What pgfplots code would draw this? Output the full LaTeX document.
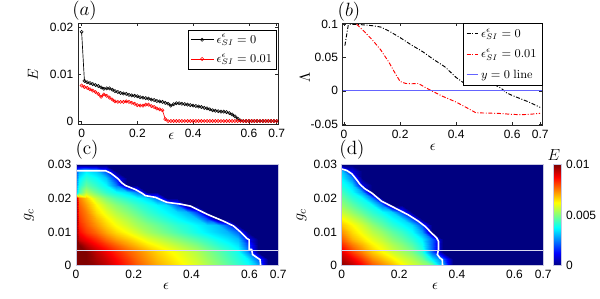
\documentclass[border=0pt]{standalone}
\usepackage[no-math]{fontspec}
\setmainfont{Liberation Sans}
\usepackage{pgfplots}
\pgfplotsset{compat=1.18}
\definecolor{hline}{RGB}{215,215,240}
\definecolor{bframe}{RGB}{200,200,225}
\definecolor{ylblue}{RGB}{100,100,255}
\begin{document}
\begin{tikzpicture}
\path[use as bounding box] (0,0) rectangle (450pt,224.25pt);
\pgfplotsset{
  myax/.style={scale only axis, anchor=south west, tick align=inside,
    axis line style={black!85, line width=0.4pt},
    major tick length=2.2pt,
    tick style={black!85, line width=0.4pt},
    tick label style={font=\fontsize{9}{10}\selectfont},
    /pgf/number format/assume math mode=true,
    scaled ticks=false,
    label style={font=\fontsize{11}{12}\selectfont},
    xtick={0,0.2,0.4,0.6,0.7}, xticklabels={0,0.2,0.4,0.6,0.7},
  },
  hm/.style={myax, xmin=0, xmax=0.7, ymin=0, ymax=0.03,
    ytick={0,0.01,0.02,0.03}, yticklabels={0,0.01,0.02,0.03},
    colormap/jet, point meta min=0, point meta max=0.01,
    axis line style={bframe, line width=0.5pt}, tick style={draw=none}, axis on top,
    xlabel={$\epsilon$}, ylabel={$g_c$},
    ylabel style={font=\fontsize{12}{13}\selectfont},
  },
}
% ---------------- (a)
\begin{axis}[myax, at={(58.5pt,131.25pt)}, width=150pt, height=75.75pt,
  xmin=-0.013, xmax=0.7046, ymin=-0.00064, ymax=0.021,
  ytick={0,0.01,0.02}, yticklabels={0,0.01,0.02},
  xlabel={$\epsilon$}, ylabel={$E$},
  xlabel style={at={(axis description cs:0.467,-0.125)}, anchor=center},
  ylabel style={at={(axis description cs:-0.226,0.49)}, anchor=center},
  legend cell align=left,
  legend style={at={(0.995,0.935)}, anchor=north east, font=\fontsize{9}{10}\selectfont, inner sep=1.5pt, row sep=2.5pt},
]
\addplot[black, line width=0.5pt, mark=o, mark size=1.2pt, mark options={line width=0.4pt}] coordinates {
(0,0.0191)(0.01,0.0086)(0.02,0.0083)(0.03,0.0081)(0.04,0.0079)(0.05,0.0077)(0.06,0.0075)(0.07,0.0072)(0.08,0.0069)(0.09,0.0070)
(0.10,0.0070)(0.11,0.0067)(0.12,0.0064)(0.13,0.0062)(0.14,0.0060)(0.15,0.0059)(0.16,0.0058)(0.17,0.0056)(0.18,0.0055)(0.19,0.0054)
(0.20,0.0053)(0.21,0.0051)(0.22,0.0050)(0.23,0.0049)(0.24,0.0048)(0.25,0.0046)(0.26,0.0045)(0.27,0.0043)(0.28,0.0042)(0.29,0.0041)
(0.30,0.0039)(0.31,0.0037)(0.32,0.0033)(0.33,0.0036)(0.34,0.0038)(0.35,0.0038)(0.36,0.0037)(0.37,0.0036)(0.38,0.0035)(0.39,0.0034)
(0.40,0.0033)(0.41,0.0032)(0.42,0.0031)(0.43,0.0030)(0.44,0.0028)(0.45,0.0027)(0.46,0.0025)(0.47,0.0023)(0.48,0.0022)(0.49,0.0021)
(0.50,0.0020)(0.51,0.0020)(0.52,0.0019)(0.53,0.0017)(0.54,0.0014)(0.55,0.0010)(0.56,0.0005)(0.57,0.0001)(0.58,0)(0.59,0)
(0.60,0)(0.61,0)(0.62,0)(0.63,0)(0.64,0)(0.65,0)(0.66,0)(0.67,0)(0.68,0)(0.69,0)(0.70,0)};
\addlegendentry{$\epsilon_{SI}^{\epsilon}=0$}
\addplot[red, line width=0.5pt, mark=o, mark size=1.2pt, mark options={line width=0.4pt}] coordinates {
(0,0.0076)(0.01,0.0073)(0.02,0.0071)(0.03,0.0068)(0.04,0.0065)(0.05,0.0062)(0.06,0.0058)(0.07,0.0052)(0.08,0.0057)(0.09,0.0054)
(0.10,0.0050)(0.11,0.0046)(0.12,0.0042)(0.13,0.0041)(0.14,0.0041)(0.15,0.0041)(0.16,0.0042)(0.17,0.0041)(0.18,0.0039)(0.19,0.0037)
(0.20,0.0034)(0.21,0.0033)(0.22,0.0033)(0.23,0.0035)(0.24,0.0035)(0.25,0.0032)(0.26,0.0030)(0.27,0.0027)(0.28,0.0025)(0.29,0.0023)
(0.30,0.0004)(0.31,0)(0.32,0)(0.33,0)(0.34,0)(0.35,0)(0.36,0)(0.37,0)(0.38,0)(0.39,0)
(0.40,0)(0.41,0)(0.42,0)(0.43,0)(0.44,0)(0.45,0)(0.46,0)(0.47,0)(0.48,0)(0.49,0)
(0.50,0)(0.51,0)(0.52,0)(0.53,0)(0.54,0)(0.55,0)(0.56,0)(0.57,0)(0.58,0)(0.59,0)
(0.60,0)(0.61,0)(0.62,0)(0.63,0)(0.64,0)(0.65,0)(0.66,0)(0.67,0)(0.68,0)(0.69,0)(0.70,0)};
\addlegendentry{$\epsilon_{SI}^{\epsilon}=0.01$}
\end{axis}
% ---------------- (b)
\begin{axis}[myax, at={(257pt,130.5pt)}, width=149.6pt, height=76.5pt,
  xmin=-0.005, xmax=0.707, ymin=-0.0515, ymax=0.102,
  ytick={-0.05,0,0.05,0.1}, yticklabels={-0.05,0,0.05,0.1},
  xlabel={$\epsilon$}, ylabel={$\Lambda$},
  xlabel style={at={(axis description cs:0.452,-0.215)}, anchor=center},
  ylabel style={at={(axis description cs:-0.189,0.47)}, anchor=center},
  legend cell align=left,
  legend image post style={xscale=0.5},
  legend style={at={(1,1)}, anchor=north east, font=\fontsize{9}{10}\selectfont, inner sep=2pt, row sep=3.5pt},
]
\addplot[black, line width=0.7pt, dash pattern=on 3pt off 1.3pt on 0.7pt off 1.3pt] coordinates {
(0.003,0.068)(0.015,0.099)(0.02,0.1)(0.06,0.0995)(0.1,0.098)(0.13,0.096)(0.16,0.09)(0.2,0.08)(0.24,0.069)(0.28,0.059)(0.32,0.047)(0.36,0.036)(0.4,0.02)(0.43,0.011)(0.46,0.009)(0.5,0.009)(0.54,0.0085)(0.56,0.004)(0.58,-0.003)(0.6,-0.007)(0.63,-0.012)(0.66,-0.017)(0.7,-0.025)};
\addlegendentry{$\epsilon_{SI}^{\epsilon}=0$}
\addplot[red, line width=0.7pt, dash pattern=on 3pt off 1.3pt on 0.7pt off 1.3pt] coordinates {
(0.045,0.1)(0.07,0.09)(0.1,0.077)(0.13,0.062)(0.16,0.043)(0.18,0.028)(0.2,0.014)(0.22,0.011)(0.24,0.0105)(0.265,0.011)(0.29,0.005)(0.31,0.0005)(0.35,-0.008)(0.4,-0.017)(0.44,-0.026)(0.47,-0.033)(0.5,-0.0335)(0.55,-0.034)(0.6,-0.0355)(0.63,-0.036)(0.66,-0.0355)(0.7,-0.034)};
\addlegendentry{$\epsilon_{SI}^{\epsilon}=0.01$}
\addplot[ylblue, line width=0.7pt] coordinates {(-0.005,0)(0.707,0)};
\addlegendentry{$y=0\ \mathrm{line}$}
\end{axis}
% ---------------- (c)
\begin{axis}[hm, at={(57pt,25pt)}, width=151.7pt, height=75.75pt,
  xlabel style={at={(axis description cs:0.445,-0.208)}, anchor=center},
  ylabel style={at={(axis description cs:-0.232,0.5)}, anchor=center},
]
\addplot[surf, shader=interp, mesh/cols=22, point meta=explicit] table[row sep=\\, meta=z] {
x y z\\
0 0 0.0106\\ 0.012 0 0.0105\\ 0.035 0 0.0103\\ 0.07 0 0.0098\\ 0.105 0 0.0094\\ 0.14 0 0.0089\\ 0.175 0 0.0084\\ 0.21 0 0.0079\\ 0.245 0 0.0075\\ 0.28 0 0.0071\\ 0.315 0 0.0068\\ 0.35 0 0.0065\\ 0.385 0 0.0062\\ 0.42 0 0.0059\\ 0.455 0 0.0055\\ 0.49 0 0.0051\\ 0.525 0 0.0047\\ 0.56 0 0.0043\\ 0.595 0 0.0039\\ 0.63 0 0.0030\\ 0.665 0 0\\ 0.7 0 0\\
0 0.002 0.0106\\ 0.012 0.002 0.0105\\ 0.035 0.002 0.0102\\ 0.07 0.002 0.0096\\ 0.105 0.002 0.0092\\ 0.14 0.002 0.0087\\ 0.175 0.002 0.0082\\ 0.21 0.002 0.0077\\ 0.245 0.002 0.0073\\ 0.28 0.002 0.0069\\ 0.315 0.002 0.0066\\ 0.35 0.002 0.0063\\ 0.385 0.002 0.0060\\ 0.42 0.002 0.0057\\ 0.455 0.002 0.0053\\ 0.49 0.002 0.0049\\ 0.525 0.002 0.0045\\ 0.56 0.002 0.0041\\ 0.595 0.002 0.0036\\ 0.63 0.002 0.0022\\ 0.665 0.002 0\\ 0.7 0.002 0\\
0 0.004 0.0106\\ 0.012 0.004 0.0104\\ 0.035 0.004 0.0100\\ 0.07 0.004 0.0094\\ 0.105 0.004 0.0089\\ 0.14 0.004 0.0084\\ 0.175 0.004 0.0079\\ 0.21 0.004 0.0075\\ 0.245 0.004 0.0071\\ 0.28 0.004 0.0067\\ 0.315 0.004 0.0064\\ 0.35 0.004 0.0061\\ 0.385 0.004 0.0058\\ 0.42 0.004 0.0055\\ 0.455 0.004 0.0051\\ 0.49 0.004 0.0047\\ 0.525 0.004 0.0043\\ 0.56 0.004 0.0039\\ 0.595 0.004 0.0026\\ 0.63 0.004 0\\ 0.665 0.004 0\\ 0.7 0.004 0\\
0 0.006 0.0106\\ 0.012 0.006 0.0102\\ 0.035 0.006 0.0094\\ 0.07 0.006 0.0088\\ 0.105 0.006 0.0083\\ 0.14 0.006 0.0078\\ 0.175 0.006 0.0073\\ 0.21 0.006 0.0069\\ 0.245 0.006 0.0065\\ 0.28 0.006 0.0062\\ 0.315 0.006 0.0059\\ 0.35 0.006 0.0056\\ 0.385 0.006 0.0053\\ 0.42 0.006 0.0050\\ 0.455 0.006 0.0046\\ 0.49 0.006 0.0042\\ 0.525 0.006 0.0039\\ 0.56 0.006 0.0035\\ 0.595 0.006 0.0020\\ 0.63 0.006 0\\ 0.665 0.006 0\\ 0.7 0.006 0\\
0 0.008 0.0105\\ 0.012 0.008 0.0092\\ 0.035 0.008 0.0088\\ 0.07 0.008 0.0083\\ 0.105 0.008 0.0077\\ 0.14 0.008 0.0072\\ 0.175 0.008 0.0068\\ 0.21 0.008 0.0064\\ 0.245 0.008 0.0060\\ 0.28 0.008 0.0057\\ 0.315 0.008 0.0054\\ 0.35 0.008 0.0051\\ 0.385 0.008 0.0048\\ 0.42 0.008 0.0045\\ 0.455 0.008 0.0042\\ 0.49 0.008 0.0038\\ 0.525 0.008 0.0035\\ 0.56 0.008 0.0031\\ 0.595 0.008 0.0012\\ 0.63 0.008 0\\ 0.665 0.008 0\\ 0.7 0.008 0\\
0 0.010 0.0105\\ 0.012 0.010 0.0087\\ 0.035 0.010 0.0082\\ 0.07 0.010 0.0077\\ 0.105 0.010 0.0071\\ 0.14 0.010 0.0066\\ 0.175 0.010 0.0062\\ 0.21 0.010 0.0058\\ 0.245 0.010 0.0054\\ 0.28 0.010 0.0051\\ 0.315 0.010 0.0048\\ 0.35 0.010 0.0045\\ 0.385 0.010 0.0042\\ 0.42 0.010 0.0039\\ 0.455 0.010 0.0036\\ 0.49 0.010 0.0033\\ 0.525 0.010 0.0030\\ 0.56 0.010 0.0022\\ 0.595 0.010 0\\ 0.63 0.010 0\\ 0.665 0.010 0\\ 0.7 0.010 0\\
0 0.012 0.0104\\ 0.012 0.012 0.0084\\ 0.035 0.012 0.0079\\ 0.07 0.012 0.0073\\ 0.105 0.012 0.0067\\ 0.14 0.012 0.0062\\ 0.175 0.012 0.0058\\ 0.21 0.012 0.0054\\ 0.245 0.012 0.0051\\ 0.28 0.012 0.0048\\ 0.315 0.012 0.0045\\ 0.35 0.012 0.0042\\ 0.385 0.012 0.0040\\ 0.42 0.012 0.0037\\ 0.455 0.012 0.0034\\ 0.49 0.012 0.0031\\ 0.525 0.012 0.0020\\ 0.56 0.012 0\\ 0.595 0.012 0\\ 0.63 0.012 0\\ 0.665 0.012 0\\ 0.7 0.012 0\\
0 0.014 0.0104\\ 0.012 0.014 0.0082\\ 0.035 0.014 0.0077\\ 0.07 0.014 0.0070\\ 0.105 0.014 0.0064\\ 0.14 0.014 0.0059\\ 0.175 0.014 0.0055\\ 0.21 0.014 0.0051\\ 0.245 0.014 0.0047\\ 0.28 0.014 0.0044\\ 0.315 0.014 0.0041\\ 0.35 0.014 0.0038\\ 0.385 0.014 0.0035\\ 0.42 0.014 0.0032\\ 0.455 0.014 0.0020\\ 0.49 0.014 0\\ 0.525 0.014 0\\ 0.56 0.014 0\\ 0.595 0.014 0\\ 0.63 0.014 0\\ 0.665 0.014 0\\ 0.7 0.014 0\\
0 0.016 0.0104\\ 0.012 0.016 0.0080\\ 0.035 0.016 0.0075\\ 0.07 0.016 0.0066\\ 0.105 0.016 0.0060\\ 0.14 0.016 0.0055\\ 0.175 0.016 0.0051\\ 0.21 0.016 0.0047\\ 0.245 0.016 0.0043\\ 0.28 0.016 0.0040\\ 0.315 0.016 0.0037\\ 0.35 0.016 0.0034\\ 0.385 0.016 0.0030\\ 0.42 0.016 0.0018\\ 0.455 0.016 0\\ 0.49 0.016 0\\ 0.525 0.016 0\\ 0.56 0.016 0\\ 0.595 0.016 0\\ 0.63 0.016 0\\ 0.665 0.016 0\\ 0.7 0.016 0\\
0 0.018 0.0104\\ 0.012 0.018 0.0078\\ 0.035 0.018 0.0072\\ 0.07 0.018 0.0063\\ 0.105 0.018 0.0056\\ 0.14 0.018 0.0051\\ 0.175 0.018 0.0047\\ 0.21 0.018 0.0043\\ 0.245 0.018 0.0040\\ 0.28 0.018 0.0037\\ 0.315 0.018 0.0034\\ 0.35 0.018 0.0022\\ 0.385 0.018 0\\ 0.42 0.018 0\\ 0.455 0.018 0\\ 0.49 0.018 0\\ 0.525 0.018 0\\ 0.56 0.018 0\\ 0.595 0.018 0\\ 0.63 0.018 0\\ 0.665 0.018 0\\ 0.7 0.018 0\\
0 0.020 0.0100\\ 0.012 0.020 0.0075\\ 0.035 0.020 0.0068\\ 0.07 0.020 0.0057\\ 0.105 0.020 0.0050\\ 0.14 0.020 0.0045\\ 0.175 0.020 0.0041\\ 0.21 0.020 0.0038\\ 0.245 0.020 0.0034\\ 0.28 0.020 0.0024\\ 0.315 0.020 0\\ 0.35 0.020 0\\ 0.385 0.020 0\\ 0.42 0.020 0\\ 0.455 0.020 0\\ 0.49 0.020 0\\ 0.525 0.020 0\\ 0.56 0.020 0\\ 0.595 0.020 0\\ 0.63 0.020 0\\ 0.665 0.020 0\\ 0.7 0.020 0\\
0 0.022 0.0030\\ 0.012 0.022 0.0045\\ 0.035 0.022 0.0055\\ 0.07 0.022 0.0048\\ 0.105 0.022 0.0042\\ 0.14 0.022 0.0038\\ 0.175 0.022 0.0034\\ 0.21 0.022 0.0024\\ 0.245 0.022 0\\ 0.28 0.022 0\\ 0.315 0.022 0\\ 0.35 0.022 0\\ 0.385 0.022 0\\ 0.42 0.022 0\\ 0.455 0.022 0\\ 0.49 0.022 0\\ 0.525 0.022 0\\ 0.56 0.022 0\\ 0.595 0.022 0\\ 0.63 0.022 0\\ 0.665 0.022 0\\ 0.7 0.022 0\\
0 0.024 0.0025\\ 0.012 0.024 0.0040\\ 0.035 0.024 0.0047\\ 0.07 0.024 0.0042\\ 0.105 0.024 0.0037\\ 0.14 0.024 0.0024\\ 0.175 0.024 0\\ 0.21 0.024 0\\ 0.245 0.024 0\\ 0.28 0.024 0\\ 0.315 0.024 0\\ 0.35 0.024 0\\ 0.385 0.024 0\\ 0.42 0.024 0\\ 0.455 0.024 0\\ 0.49 0.024 0\\ 0.525 0.024 0\\ 0.56 0.024 0\\ 0.595 0.024 0\\ 0.63 0.024 0\\ 0.665 0.024 0\\ 0.7 0.024 0\\
0 0.026 0.0022\\ 0.012 0.026 0.0036\\ 0.035 0.026 0.0042\\ 0.07 0.026 0.0038\\ 0.105 0.026 0.0032\\ 0.14 0.026 0.0015\\ 0.175 0.026 0\\ 0.21 0.026 0\\ 0.245 0.026 0\\ 0.28 0.026 0\\ 0.315 0.026 0\\ 0.35 0.026 0\\ 0.385 0.026 0\\ 0.42 0.026 0\\ 0.455 0.026 0\\ 0.49 0.026 0\\ 0.525 0.026 0\\ 0.56 0.026 0\\ 0.595 0.026 0\\ 0.63 0.026 0\\ 0.665 0.026 0\\ 0.7 0.026 0\\
0 0.028 0.0018\\ 0.012 0.028 0.0030\\ 0.035 0.028 0.0036\\ 0.07 0.028 0.0032\\ 0.105 0.028 0.0020\\ 0.14 0.028 0\\ 0.175 0.028 0\\ 0.21 0.028 0\\ 0.245 0.028 0\\ 0.28 0.028 0\\ 0.315 0.028 0\\ 0.35 0.028 0\\ 0.385 0.028 0\\ 0.42 0.028 0\\ 0.455 0.028 0\\ 0.49 0.028 0\\ 0.525 0.028 0\\ 0.56 0.028 0\\ 0.595 0.028 0\\ 0.63 0.028 0\\ 0.665 0.028 0\\ 0.7 0.028 0\\
0 0.030 0\\ 0.012 0.030 0\\ 0.035 0.030 0\\ 0.07 0.030 0\\ 0.105 0.030 0\\ 0.14 0.030 0\\ 0.175 0.030 0\\ 0.21 0.030 0\\ 0.245 0.030 0\\ 0.28 0.030 0\\ 0.315 0.030 0\\ 0.35 0.030 0\\ 0.385 0.030 0\\ 0.42 0.030 0\\ 0.455 0.030 0\\ 0.49 0.030 0\\ 0.525 0.030 0\\ 0.56 0.030 0\\ 0.595 0.030 0\\ 0.63 0.030 0\\ 0.665 0.030 0\\ 0.7 0.030 0\\
};
\addplot[white, line width=1.2pt] coordinates {
(0,0.0282)(0.102,0.0282)(0.12,0.0275)(0.143,0.026)(0.16,0.0245)(0.171,0.0238)(0.206,0.0226)(0.229,0.0215)(0.24,0.0208)(0.275,0.0203)(0.298,0.0194)(0.315,0.0188)(0.361,0.0183)(0.396,0.0177)(0.453,0.0153)(0.511,0.0132)(0.545,0.0118)(0.568,0.0101)(0.591,0.0081)(0.599,0.0077)(0.599,0.0049)(0.608,0.0048)(0.611,0.0033)(0.637,0.0018)(0.639,0)};
\addplot[hline, line width=0.5pt] coordinates {(0,0.0045)(0.7,0.0045)};
\end{axis}
% ---------------- (d)
\begin{axis}[hm, at={(256.3pt,25pt)}, width=151.2pt, height=75.75pt,
  xlabel style={at={(axis description cs:0.463,-0.208)}, anchor=center},
  ylabel style={at={(axis description cs:-0.2,0.5)}, anchor=center},
  colorbar,
  colorbar style={at={(parent axis.north east)}, anchor=north west, xshift=-1.2pt,
    width=6.2pt, ytick={0,0.005,0.01}, yticklabels={0,0.005,0.01},
    scaled y ticks=false,
    tick style={draw=none}, axis line style={bframe},
    yticklabel style={font=\fontsize{9}{10}\selectfont},
    /pgf/number format/assume math mode=true},
]
\addplot[surf, shader=interp, mesh/cols=21, point meta=explicit] table[row sep=\\, meta=z] {
x y z\\
0 0 0.0100\\ 0.035 0 0.0095\\ 0.07 0 0.0088\\ 0.105 0 0.0080\\ 0.14 0 0.0075\\ 0.175 0 0.0070\\ 0.21 0 0.0064\\ 0.245 0 0.0059\\ 0.28 0 0.0055\\ 0.315 0 0.0050\\ 0.35 0 0.0030\\ 0.385 0 0\\ 0.42 0 0\\ 0.455 0 0\\ 0.49 0 0\\ 0.525 0 0\\ 0.56 0 0\\ 0.595 0 0\\ 0.63 0 0\\ 0.665 0 0\\ 0.7 0 0\\
0 0.002 0.0095\\ 0.035 0.002 0.0089\\ 0.07 0.002 0.0082\\ 0.105 0.002 0.0074\\ 0.14 0.002 0.0069\\ 0.175 0.002 0.0064\\ 0.21 0.002 0.0059\\ 0.245 0.002 0.0055\\ 0.28 0.002 0.0049\\ 0.315 0.002 0.0036\\ 0.35 0.002 0.0022\\ 0.385 0.002 0\\ 0.42 0.002 0\\ 0.455 0.002 0\\ 0.49 0.002 0\\ 0.525 0.002 0\\ 0.56 0.002 0\\ 0.595 0.002 0\\ 0.63 0.002 0\\ 0.665 0.002 0\\ 0.7 0.002 0\\
0 0.004 0.0090\\ 0.035 0.004 0.0082\\ 0.07 0.004 0.0075\\ 0.105 0.004 0.0068\\ 0.14 0.004 0.0063\\ 0.175 0.004 0.0058\\ 0.21 0.004 0.0054\\ 0.245 0.004 0.0050\\ 0.28 0.004 0.0042\\ 0.315 0.004 0.0022\\ 0.35 0.004 0\\ 0.385 0.004 0\\ 0.42 0.004 0\\ 0.455 0.004 0\\ 0.49 0.004 0\\ 0.525 0.004 0\\ 0.56 0.004 0\\ 0.595 0.004 0\\ 0.63 0.004 0\\ 0.665 0.004 0\\ 0.7 0.004 0\\
0 0.006 0.0084\\ 0.035 0.006 0.0076\\ 0.07 0.006 0.0070\\ 0.105 0.006 0.0064\\ 0.14 0.006 0.0060\\ 0.175 0.006 0.0055\\ 0.21 0.006 0.0051\\ 0.245 0.006 0.0046\\ 0.28 0.006 0.0039\\ 0.315 0.006 0.0022\\ 0.35 0.006 0\\ 0.385 0.006 0\\ 0.42 0.006 0\\ 0.455 0.006 0\\ 0.49 0.006 0\\ 0.525 0.006 0\\ 0.56 0.006 0\\ 0.595 0.006 0\\ 0.63 0.006 0\\ 0.665 0.006 0\\ 0.7 0.006 0\\
0 0.008 0.0078\\ 0.035 0.008 0.0070\\ 0.07 0.008 0.0065\\ 0.105 0.008 0.0060\\ 0.14 0.008 0.0056\\ 0.175 0.008 0.0051\\ 0.21 0.008 0.0047\\ 0.245 0.008 0.0042\\ 0.28 0.008 0.0036\\ 0.315 0.008 0.0022\\ 0.35 0.008 0\\ 0.385 0.008 0\\ 0.42 0.008 0\\ 0.455 0.008 0\\ 0.49 0.008 0\\ 0.525 0.008 0\\ 0.56 0.008 0\\ 0.595 0.008 0\\ 0.63 0.008 0\\ 0.665 0.008 0\\ 0.7 0.008 0\\
0 0.010 0.0073\\ 0.035 0.010 0.0066\\ 0.07 0.010 0.0061\\ 0.105 0.010 0.0056\\ 0.14 0.010 0.0052\\ 0.175 0.010 0.0047\\ 0.21 0.010 0.0043\\ 0.245 0.010 0.0038\\ 0.28 0.010 0.0028\\ 0.315 0.010 0\\ 0.35 0.010 0\\ 0.385 0.010 0\\ 0.42 0.010 0\\ 0.455 0.010 0\\ 0.49 0.010 0\\ 0.525 0.010 0\\ 0.56 0.010 0\\ 0.595 0.010 0\\ 0.63 0.010 0\\ 0.665 0.010 0\\ 0.7 0.010 0\\
0 0.012 0.0068\\ 0.035 0.012 0.0063\\ 0.07 0.012 0.0058\\ 0.105 0.012 0.0052\\ 0.14 0.012 0.0047\\ 0.175 0.012 0.0042\\ 0.21 0.012 0.0038\\ 0.245 0.012 0.0034\\ 0.28 0.012 0.0020\\ 0.315 0.012 0\\ 0.35 0.012 0\\ 0.385 0.012 0\\ 0.42 0.012 0\\ 0.455 0.012 0\\ 0.49 0.012 0\\ 0.525 0.012 0\\ 0.56 0.012 0\\ 0.595 0.012 0\\ 0.63 0.012 0\\ 0.665 0.012 0\\ 0.7 0.012 0\\
0 0.014 0.0063\\ 0.035 0.014 0.0058\\ 0.07 0.014 0.0053\\ 0.105 0.014 0.0047\\ 0.14 0.014 0.0043\\ 0.175 0.014 0.0038\\ 0.21 0.014 0.0034\\ 0.245 0.014 0.0020\\ 0.28 0.014 0\\ 0.315 0.014 0\\ 0.35 0.014 0\\ 0.385 0.014 0\\ 0.42 0.014 0\\ 0.455 0.014 0\\ 0.49 0.014 0\\ 0.525 0.014 0\\ 0.56 0.014 0\\ 0.595 0.014 0\\ 0.63 0.014 0\\ 0.665 0.014 0\\ 0.7 0.014 0\\
0 0.016 0.0057\\ 0.035 0.016 0.0052\\ 0.07 0.016 0.0047\\ 0.105 0.016 0.0042\\ 0.14 0.016 0.0038\\ 0.175 0.016 0.0033\\ 0.21 0.016 0.0018\\ 0.245 0.016 0\\ 0.28 0.016 0\\ 0.315 0.016 0\\ 0.35 0.016 0\\ 0.385 0.016 0\\ 0.42 0.016 0\\ 0.455 0.016 0\\ 0.49 0.016 0\\ 0.525 0.016 0\\ 0.56 0.016 0\\ 0.595 0.016 0\\ 0.63 0.016 0\\ 0.665 0.016 0\\ 0.7 0.016 0\\
0 0.018 0.0052\\ 0.035 0.018 0.0047\\ 0.07 0.018 0.0042\\ 0.105 0.018 0.0038\\ 0.14 0.018 0.0025\\ 0.175 0.018 0\\ 0.21 0.018 0\\ 0.245 0.018 0\\ 0.28 0.018 0\\ 0.315 0.018 0\\ 0.35 0.018 0\\ 0.385 0.018 0\\ 0.42 0.018 0\\ 0.455 0.018 0\\ 0.49 0.018 0\\ 0.525 0.018 0\\ 0.56 0.018 0\\ 0.595 0.018 0\\ 0.63 0.018 0\\ 0.665 0.018 0\\ 0.7 0.018 0\\
0 0.020 0.0048\\ 0.035 0.020 0.0042\\ 0.07 0.020 0.0038\\ 0.105 0.020 0.0025\\ 0.14 0.020 0\\ 0.175 0.020 0\\ 0.21 0.020 0\\ 0.245 0.020 0\\ 0.28 0.020 0\\ 0.315 0.020 0\\ 0.35 0.020 0\\ 0.385 0.020 0\\ 0.42 0.020 0\\ 0.455 0.020 0\\ 0.49 0.020 0\\ 0.525 0.020 0\\ 0.56 0.020 0\\ 0.595 0.020 0\\ 0.63 0.020 0\\ 0.665 0.020 0\\ 0.7 0.020 0\\
0 0.022 0.0044\\ 0.035 0.022 0.0038\\ 0.07 0.022 0.0028\\ 0.105 0.022 0\\ 0.14 0.022 0\\ 0.175 0.022 0\\ 0.21 0.022 0\\ 0.245 0.022 0\\ 0.28 0.022 0\\ 0.315 0.022 0\\ 0.35 0.022 0\\ 0.385 0.022 0\\ 0.42 0.022 0\\ 0.455 0.022 0\\ 0.49 0.022 0\\ 0.525 0.022 0\\ 0.56 0.022 0\\ 0.595 0.022 0\\ 0.63 0.022 0\\ 0.665 0.022 0\\ 0.7 0.022 0\\
0 0.024 0.0040\\ 0.035 0.024 0.0034\\ 0.07 0.024 0.0010\\ 0.105 0.024 0\\ 0.14 0.024 0\\ 0.175 0.024 0\\ 0.21 0.024 0\\ 0.245 0.024 0\\ 0.28 0.024 0\\ 0.315 0.024 0\\ 0.35 0.024 0\\ 0.385 0.024 0\\ 0.42 0.024 0\\ 0.455 0.024 0\\ 0.49 0.024 0\\ 0.525 0.024 0\\ 0.56 0.024 0\\ 0.595 0.024 0\\ 0.63 0.024 0\\ 0.665 0.024 0\\ 0.7 0.024 0\\
0 0.026 0.0036\\ 0.035 0.026 0.0025\\ 0.07 0.026 0\\ 0.105 0.026 0\\ 0.14 0.026 0\\ 0.175 0.026 0\\ 0.21 0.026 0\\ 0.245 0.026 0\\ 0.28 0.026 0\\ 0.315 0.026 0\\ 0.35 0.026 0\\ 0.385 0.026 0\\ 0.42 0.026 0\\ 0.455 0.026 0\\ 0.49 0.026 0\\ 0.525 0.026 0\\ 0.56 0.026 0\\ 0.595 0.026 0\\ 0.63 0.026 0\\ 0.665 0.026 0\\ 0.7 0.026 0\\
0 0.028 0.0032\\ 0.035 0.028 0.0010\\ 0.07 0.028 0\\ 0.105 0.028 0\\ 0.14 0.028 0\\ 0.175 0.028 0\\ 0.21 0.028 0\\ 0.245 0.028 0\\ 0.28 0.028 0\\ 0.315 0.028 0\\ 0.35 0.028 0\\ 0.385 0.028 0\\ 0.42 0.028 0\\ 0.455 0.028 0\\ 0.49 0.028 0\\ 0.525 0.028 0\\ 0.56 0.028 0\\ 0.595 0.028 0\\ 0.63 0.028 0\\ 0.665 0.028 0\\ 0.7 0.028 0\\
0 0.030 0\\ 0.035 0.030 0\\ 0.07 0.030 0\\ 0.105 0.030 0\\ 0.14 0.030 0\\ 0.175 0.030 0\\ 0.21 0.030 0\\ 0.245 0.030 0\\ 0.28 0.030 0\\ 0.315 0.030 0\\ 0.35 0.030 0\\ 0.385 0.030 0\\ 0.42 0.030 0\\ 0.455 0.030 0\\ 0.49 0.030 0\\ 0.525 0.030 0\\ 0.56 0.030 0\\ 0.595 0.030 0\\ 0.63 0.030 0\\ 0.665 0.030 0\\ 0.7 0.030 0\\
};
\addplot[white, line width=1.2pt] coordinates {
(0,0.0287)(0.017,0.0283)(0.035,0.0273)(0.052,0.0255)(0.064,0.0241)(0.081,0.0228)(0.104,0.0216)(0.139,0.0191)(0.174,0.0176)(0.231,0.0151)(0.266,0.0132)(0.289,0.0117)(0.312,0.0097)(0.33,0.0082)(0.336,0.0072)(0.336,0.0048)(0.332,0.0033)(0.341,0.0023)(0.349,0.0018)(0.35,0)};
\addplot[hline, line width=0.5pt] coordinates {(0,0.0045)(0.7,0.0045)};
\end{axis}
% panel labels and colorbar title
\node[font=\fontsize{14}{16}\selectfont] at (63.4pt,216pt) {$(a)$};
\node[font=\fontsize{14}{16}\selectfont] at (261.75pt,215.25pt) {$(b)$};
\node[font=\fontsize{14}{16}\selectfont] at (65.25pt,111.75pt) {$(\mathrm{c})$};
\node[font=\fontsize{14}{16}\selectfont] at (264pt,111.75pt) {$(\mathrm{d})$};
\node[font=\fontsize{13}{15}\selectfont] at (415.5pt,108pt) {$E$};
\end{tikzpicture}
\end{document}
